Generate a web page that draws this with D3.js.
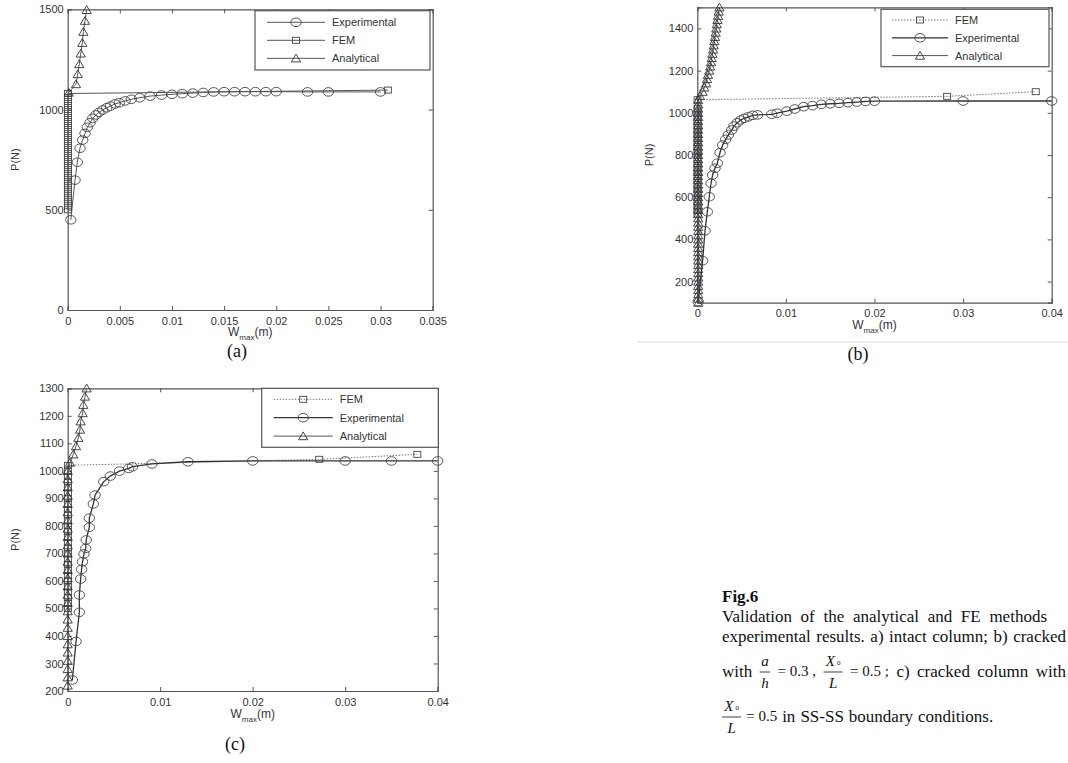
<!DOCTYPE html>
<html>
<head>
<meta charset="utf-8">
<script src="https://cdn.jsdelivr.net/npm/d3@7"></script>
<style>
  body { margin: 0; background: #fff; }
  svg { display: block; }
</style>
</head>
<body>
<div id="chart"></div>
<script>
// ---- panel (a): intact column ----
const aTicksX = [0, 0.005, 0.01, 0.015, 0.02, 0.025, 0.03, 0.035];
const aTicksY = [0, 500, 1000, 1500];
const aExpW = [0.0003, 0.0007, 0.00092, 0.00118, 0.00144, 0.00166, 0.00188, 0.00214, 0.0024, 0.0027, 0.003, 0.00336, 0.00374, 0.0041, 0.00454, 0.00495, 0.0055, 0.0061, 0.0069, 0.0079, 0.009, 0.01, 0.011, 0.012, 0.013, 0.014, 0.015, 0.016, 0.017, 0.018, 0.019, 0.02, 0.023, 0.025, 0.03];
const aExpP = [450, 648, 737, 807, 848, 881, 911, 934, 956, 973, 986, 998, 1009, 1017, 1028, 1034, 1043, 1051, 1059, 1067, 1072, 1076, 1079, 1082, 1085, 1088, 1089, 1089, 1089, 1089, 1089, 1089, 1088, 1088, 1088];
const aFemW = [0.00002, 0.00002, 0.00002, 0.00002, 0.00002, 0.00002, 0.00002, 0.00002, 0.00002, 0.00002, 0.00002, 0.00002, 0.00002, 0.00002, 0.00002, 0.00002, 0.00002, 0.00002, 0.00002, 0.00002, 0.00002, 0.00002, 0.00002, 0.00002, 0.00002, 0.00002, 0.00002, 0.00002, 0.00002, 0.00002, 0.0307];
const aFemP = [500, 520, 540, 560, 580, 600, 620, 640, 660, 680, 700, 720, 740, 760, 780, 800, 820, 840, 860, 880, 900, 920, 940, 960, 980, 1000, 1020, 1040, 1060, 1080, 1097];
const aAnaW = [0.0001, 0.0008, 0.00096, 0.00111, 0.00125, 0.0014, 0.0015, 0.00166, 0.00182];
const aAnaP = [1085, 1127, 1177, 1227, 1280, 1333, 1388, 1443, 1497];

// ---- panel (b): cracked column a/h = 0.3 ----
const bTicksX = [0, 0.01, 0.02, 0.03, 0.04];
const bTicksY = [200, 400, 600, 800, 1000, 1200, 1400];
const bExpW = [0.0001, 0.0006, 0.00087, 0.00113, 0.00135, 0.00155, 0.00173, 0.002, 0.00226, 0.00256, 0.00286, 0.0032, 0.0035, 0.00388, 0.00414, 0.0045, 0.0049, 0.0053, 0.00576, 0.00625, 0.0068, 0.0084, 0.009, 0.0101, 0.011, 0.012, 0.013, 0.014, 0.015, 0.016, 0.017, 0.018, 0.019, 0.02, 0.03, 0.04];
const bExpP = [105, 299, 441, 531, 602, 666, 705, 737, 761, 811, 847, 874, 895, 918, 937, 953, 966, 974, 981, 988, 990, 993, 998, 1008, 1018, 1029, 1034, 1040, 1043, 1045, 1048, 1051, 1054, 1055, 1056, 1056];
const bFemW = [0.00003, 0.00003, 0.00003, 0.00003, 0.00003, 0.00003, 0.00003, 0.00003, 0.00003, 0.00003, 0.00003, 0.00003, 0.00003, 0.00003, 0.00003, 0.00003, 0.00003, 0.00003, 0.00003, 0.00003, 0.00003, 0.00003, 0.00003, 0.00003, 0.00003, 0.00003, 0.00003, 0.0282, 0.0382];
const bFemP = [520, 540, 560, 580, 600, 620, 640, 660, 680, 700, 720, 740, 760, 780, 800, 820, 840, 860, 880, 900, 920, 940, 960, 980, 1000, 1020, 1062, 1078, 1100];
const bAnaW = [0.0001, 0.0001, 0.0001, 0.0001, 0.0001, 0.0001, 0.0001, 0.0001, 0.0001, 0.0001, 0.0001, 0.0001, 0.0001, 0.0001, 0.0001, 0.0001, 0.0001, 0.0001, 0.0001, 0.0001, 0.0001, 0.0001, 0.0001, 0.0001, 0.0001, 0.0001, 0.0001, 0.0001, 0.0001, 0.0001, 0.0001, 0.0001, 0.0001, 0.0001, 0.0001, 0.0001, 0.0001, 0.0001, 0.0001, 0.0001, 0.0001, 0.0001, 0.0001, 0.0001, 0.0001, 0.0001, 0.0001, 0.0001, 0.0001, 0.0003, 0.0006, 0.0008, 0.001, 0.0011, 0.0012, 0.00135, 0.00145, 0.00155, 0.00163, 0.0017, 0.00178, 0.00185, 0.00192, 0.002, 0.00207, 0.00214, 0.0022, 0.00228, 0.00235, 0.00242, 0.0025];
const bAnaP = [100, 120, 140, 160, 180, 200, 220, 240, 260, 280, 300, 320, 340, 360, 380, 400, 420, 440, 460, 480, 500, 520, 540, 560, 580, 600, 620, 640, 660, 680, 700, 720, 740, 760, 780, 800, 820, 840, 860, 880, 900, 920, 940, 960, 980, 1000, 1020, 1040, 1060, 1080, 1100, 1120, 1140, 1160, 1180, 1200, 1220, 1240, 1260, 1280, 1300, 1320, 1340, 1360, 1380, 1400, 1420, 1440, 1460, 1480, 1500];

// ---- panel (c): cracked column, SS-SS ----
const cTicksX = [0, 0.01, 0.02, 0.03, 0.04];
const cTicksY = [200, 300, 400, 500, 600, 700, 800, 900, 1000, 1100, 1200, 1300];
const cExpW = [0.0005, 0.0009, 0.00126, 0.00126, 0.0014, 0.0015, 0.0016, 0.00176, 0.00195, 0.002, 0.00234, 0.00234, 0.00277, 0.00296, 0.0039, 0.0046, 0.0056, 0.0066, 0.007, 0.0091, 0.013, 0.02, 0.03, 0.035, 0.04];
const cExpP = [240, 380, 486, 549, 607, 642, 670, 698, 718, 749, 795, 828, 880, 912, 961, 981, 999, 1009, 1015, 1025, 1033, 1036, 1036, 1036, 1036];
const cFemW = [0.00002, 0.00002, 0.00002, 0.00002, 0.00002, 0.00002, 0.00002, 0.00002, 0.00002, 0.00002, 0.00002, 0.00002, 0.00002, 0.00002, 0.00002, 0.00002, 0.00002, 0.00002, 0.00002, 0.00002, 0.00002, 0.00002, 0.00002, 0.00002, 0.00002, 0.00002, 0.00002, 0.0272, 0.0378];
const cFemP = [500, 520, 540, 560, 580, 600, 620, 640, 660, 680, 700, 720, 740, 760, 780, 800, 820, 840, 860, 880, 900, 920, 940, 960, 980, 1000, 1020, 1042, 1060];
const cAnaW = [0, 0, 0, 0, 0, 0, 0, 0, 0, 0, 0, 0, 0, 0, 0, 0, 0, 0, 0, 0, 0, 0, 0, 0, 0, 0, 0, 0.00025, 0.0006, 0.0009, 0.00115, 0.00133, 0.0014, 0.00162, 0.00169, 0.00187, 0.00205];
const cAnaP = [220, 250, 280, 310, 340, 370, 400, 430, 460, 490, 520, 550, 580, 610, 640, 670, 700, 730, 760, 790, 820, 850, 880, 910, 940, 970, 1000, 1030, 1060, 1090, 1120, 1150, 1180, 1210, 1240, 1270, 1300];

const width = 1068, height = 763;
const sans = "'Liberation Sans', Arial, sans-serif";
const serif = "'Liberation Serif', 'Times New Roman', serif";

const svg = d3.select("#chart").append("svg")
    .attr("width", width)
    .attr("height", height);
svg.append("rect").attr("width", width).attr("height", height).attr("fill", "#fff");

const zip = (ws, ps) => ws.map((w, i) => ({ w: w, p: ps[i] }));

// marker drawing
function drawMarker(g, type, x, y) {
    if (type === "circle") {
        g.append("ellipse").attr("cx", x).attr("cy", y).attr("rx", 5.2).attr("ry", 4.3)
            .attr("fill", "none").attr("stroke", "#444").attr("stroke-width", 0.9);
    } else if (type === "square") {
        g.append("rect").attr("x", x - 3.5).attr("y", y - 3).attr("width", 7).attr("height", 6)
            .attr("fill", "none").attr("stroke", "#444").attr("stroke-width", 0.9);
    } else {
        g.append("path").attr("d", `M${x - 4.6},${y + 3.6}L${x},${y - 4.2}L${x + 4.6},${y + 3.6}Z`)
            .attr("fill", "none").attr("stroke", "#333").attr("stroke-width", 0.9);
    }
}

const styles = {
    solid: { dash: null, width: 1, color: "#555" },
    thick: { dash: null, width: 1.3, color: "#333" },
    dotted: { dash: "1.5,1.5", width: 1, color: "#777" }
};

function drawPanel(cfg) {
    const g = svg.append("g");
    const x = d3.scaleLinear().domain(cfg.xDomain).range([cfg.left, cfg.right]);
    const y = d3.scaleLinear().domain(cfg.yDomain).range([cfg.bottom, cfg.top]);
    const axisColor = "#555";

    // axes (inward ticks, mirrored on the opposite side like the original)
    const axB = g.append("g").attr("transform", `translate(0,${cfg.bottom})`)
        .call(d3.axisBottom(x).tickValues(cfg.ticksX).tickSize(-4).tickPadding(7).tickFormat(d => String(d)));
    const axT = g.append("g").attr("transform", `translate(0,${cfg.top})`)
        .call(d3.axisTop(x).tickValues(cfg.ticksX).tickSize(-4).tickFormat(""));
    const axL = g.append("g").attr("transform", `translate(${cfg.left},0)`)
        .call(d3.axisLeft(y).tickValues(cfg.ticksY).tickSize(-4).tickPadding(4).tickFormat(d => String(d)));
    const axR = g.append("g").attr("transform", `translate(${cfg.right},0)`)
        .call(d3.axisRight(y).tickValues(cfg.ticksY).tickSize(-4).tickFormat(""));
    [axB, axT, axL, axR].forEach(a => {
        a.select(".domain").attr("stroke", axisColor).attr("stroke-width", 1.2);
        a.selectAll(".tick line").attr("stroke", axisColor);
        a.selectAll("text").attr("fill", "#333").style("font-family", sans).style("font-size", "11px");
    });

    // axis labels
    g.append("text")
        .attr("transform", `translate(${cfg.yLabelX},${(cfg.top + cfg.bottom) / 2}) rotate(-90)`)
        .attr("text-anchor", "middle")
        .style("font-family", sans).style("font-size", "11px").attr("fill", "#333")
        .text("P(N)");
    const xl = g.append("text")
        .attr("x", (cfg.left + cfg.right) / 2)
        .attr("y", cfg.bottom + cfg.xLabelDy)
        .attr("text-anchor", "middle")
        .style("font-family", sans).style("font-size", "12px").attr("fill", "#333");
    xl.append("tspan").text("W");
    xl.append("tspan").attr("dy", 4).style("font-size", "8px").text("max");
    xl.append("tspan").attr("dy", -4).text("(m)");

    // series
    const line = d3.line().x(d => x(d.w)).y(d => y(d.p));
    cfg.series.forEach(s => {
        const st = styles[s.style];
        const pts = zip(s.w, s.p);
        g.append("path").datum(pts).attr("d", line)
            .attr("fill", "none").attr("stroke", st.color).attr("stroke-width", st.width)
            .attr("stroke-dasharray", st.dash);
        const mg = g.append("g");
        pts.forEach(d => drawMarker(mg, s.marker, x(d.w), y(d.p)));
    });

    // legend
    const lg = g.append("g");
    lg.append("rect")
        .attr("x", cfg.legend.x).attr("y", cfg.legend.y)
        .attr("width", cfg.legend.w).attr("height", cfg.legend.h)
        .attr("fill", "#fff").attr("stroke", "#555").attr("stroke-width", 1.2);
    cfg.legend.order.forEach((name, i) => {
        const s = cfg.series.find(d => d.name === name);
        const st = styles[s.style];
        const ly = cfg.legend.y + cfg.legend.first + i * cfg.legend.step;
        lg.append("line")
            .attr("x1", cfg.legend.x + cfg.legend.l0).attr("x2", cfg.legend.x + cfg.legend.l1)
            .attr("y1", ly).attr("y2", ly)
            .attr("stroke", st.color).attr("stroke-width", st.width).attr("stroke-dasharray", st.dash);
        drawMarker(lg, s.marker, cfg.legend.x + (cfg.legend.l0 + cfg.legend.l1) / 2, ly);
        lg.append("text")
            .attr("x", cfg.legend.x + cfg.legend.tx).attr("y", ly + 4)
            .style("font-family", sans).style("font-size", "11px").attr("fill", "#333")
            .text(name);
    });

    // sub caption
    g.append("text")
        .attr("x", cfg.capX).attr("y", cfg.capY)
        .attr("text-anchor", "middle")
        .style("font-family", serif).style("font-size", "18px").attr("fill", "#111")
        .text(cfg.cap);
}

drawPanel({
    left: 67.7, right: 432.7, top: 9.3, bottom: 310,
    xDomain: [0, 0.035], yDomain: [0, 1500],
    ticksX: aTicksX, ticksY: aTicksY,
    yLabelX: 19, xLabelDy: 26,
    series: [
        { name: "Experimental", w: aExpW, p: aExpP, marker: "circle", style: "solid" },
        { name: "FEM", w: aFemW, p: aFemP, marker: "square", style: "solid" },
        { name: "Analytical", w: aAnaW, p: aAnaP, marker: "triangle", style: "solid" }
    ],
    legend: { x: 255, y: 10.7, w: 175, h: 59.3, first: 11.6, step: 18, l0: 12, l1: 70, tx: 77, order: ["Experimental", "FEM", "Analytical"] },
    cap: "(a)", capX: 237, capY: 357
});

drawPanel({
    left: 697.3, right: 1051.7, top: 7.3, bottom: 302.7,
    xDomain: [0, 0.04], yDomain: [100, 1500],
    ticksX: bTicksX, ticksY: bTicksY,
    yLabelX: 653, xLabelDy: 26,
    series: [
        { name: "FEM", w: bFemW, p: bFemP, marker: "square", style: "dotted" },
        { name: "Experimental", w: bExpW, p: bExpP, marker: "circle", style: "thick" },
        { name: "Analytical", w: bAnaW, p: bAnaP, marker: "triangle", style: "solid" }
    ],
    legend: { x: 881, y: 9.3, w: 168, h: 57.4, first: 10.7, step: 17.8, l0: 11, l1: 67, tx: 74, order: ["FEM", "Experimental", "Analytical"] },
    cap: "(b)", capX: 858, capY: 360
});

drawPanel({
    left: 67.7, right: 437.7, top: 388.3, bottom: 691,
    xDomain: [0, 0.04], yDomain: [200, 1300],
    ticksX: cTicksX, ticksY: cTicksY,
    yLabelX: 19, xLabelDy: 27,
    series: [
        { name: "FEM", w: cFemW, p: cFemP, marker: "square", style: "dotted" },
        { name: "Experimental", w: cExpW, p: cExpP, marker: "circle", style: "thick" },
        { name: "Analytical", w: cAnaW, p: cAnaP, marker: "triangle", style: "solid" }
    ],
    legend: { x: 261.7, y: 388.3, w: 176.6, h: 59, first: 11, step: 18.4, l0: 12, l1: 71, tx: 78, order: ["FEM", "Experimental", "Analytical"] },
    cap: "(c)", capX: 235, capY: 750
});

// thin rule under panel (b)
svg.append("line").attr("x1", 638).attr("x2", width).attr("y1", 342).attr("y2", 342)
    .attr("stroke", "#ddd").attr("stroke-width", 1);

// ---- figure caption (justified lines, as visible in the source) ----
const capFont = 17;
const cap = svg.append("g").style("font-family", serif).attr("fill", "#111");

function measure(str, size, style) {
    const t = cap.append("text").style("font-size", size + "px").style("font-style", style || "normal").text(str);
    const w = t.node().getComputedTextLength();
    t.remove();
    return w;
}

// token: string, {math} small upright text, or {num, den, sub} fraction
function tokenWidth(tok) {
    if (typeof tok === "string") return measure(tok, capFont);
    if (tok.math) return measure(tok.math, 15);
    return Math.max(measure(tok.num, 15, "italic") + (tok.sub ? 7 : 0), measure(tok.den, 15, "italic")) + 3;
}

function drawToken(tok, x, y) {
    if (typeof tok === "string") {
        cap.append("text").attr("x", x).attr("y", y).style("font-size", capFont + "px").text(tok);
        return;
    }
    if (tok.math) {
        cap.append("text").attr("x", x).attr("y", y - 1).style("font-size", "15px").text(tok.math);
        return;
    }
    const w = tokenWidth(tok);
    const t = cap.append("text").attr("x", x + w / 2).attr("y", y - 11).attr("text-anchor", "middle")
        .style("font-size", "15px").style("font-style", "italic");
    t.append("tspan").text(tok.num);
    if (tok.sub) t.append("tspan").attr("dx", 2).attr("dy", -1).style("font-size", "7px").style("font-style", "normal").text(tok.sub);
    cap.append("line").attr("x1", x).attr("x2", x + w).attr("y1", y - 5).attr("y2", y - 5)
        .attr("stroke", "#111").attr("stroke-width", 0.8);
    cap.append("text").attr("x", x + w / 2).attr("y", y + 11).attr("text-anchor", "middle")
        .style("font-size", "15px").style("font-style", "italic").text(tok.den);
}

function justify(tokens, x0, x1, y, spread) {
    const ws = tokens.map(tokenWidth);
    const total = d3.sum(ws);
    const gap = spread ? (x1 - x0 - total) / (tokens.length - 1) : 5;
    let x = x0;
    tokens.forEach((tok, i) => { drawToken(tok, x, y); x += ws[i] + gap; });
}

cap.append("text").attr("x", 722).attr("y", 602)
    .style("font-size", capFont + "px").style("font-weight", "bold").text("Fig.6");

const capLines = [
    ["Validation", "of", "the", "analytical", "and", "FE", "methods"],
    ["experimental", "results.", "a)", "intact", "column;", "b)", "cracked"],
    ["with", { num: "a", den: "h" }, { math: "= 0.3 ," }, { num: "X", sub: "0", den: "L" }, { math: "= 0.5 ;" }, "c)", "cracked", "column", "with"],
    [{ num: "X", sub: "0", den: "L" }, { math: "= 0.5" }, "in", "SS-SS", "boundary", "conditions."]
];
justify(capLines[0], 722, 1047, 622, true);
justify(capLines[1], 722, 1066, 642, true);
justify(capLines[2], 722, 1066, 677, true);
justify(capLines[3], 722, 0, 722, false);
</script>
</body>
</html>
